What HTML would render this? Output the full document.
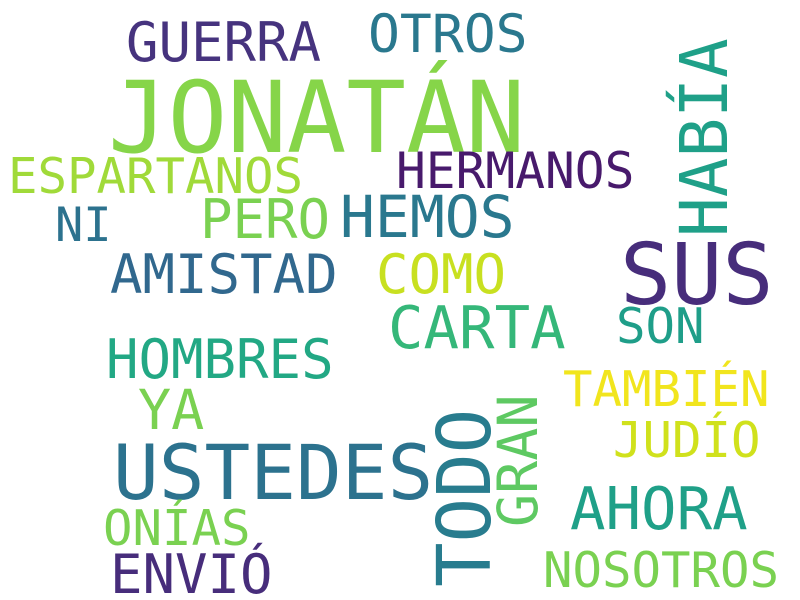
<!DOCTYPE html>
<html>
<head>
<meta charset="utf-8">
<style>
  html,body{margin:0;padding:0;background:#fff;}
  svg{display:block;}
  text{font-family:"DejaVu Sans Mono","Liberation Mono",monospace;}
</style>
</head>
<body>
<svg width="800" height="600" viewBox="0 0 800 600">
  <rect width="800" height="600" fill="#ffffff"/>
  <text x="108" y="152" font-size="99" fill="#86d549">JONATÁN</text>
  <text x="620" y="304" font-size="85" fill="#472d7b">SUS</text>
  <text x="113" y="499" font-size="76" fill="#2c728e">USTEDES</text>
  <text transform="translate(490,587) rotate(-90)" font-size="74" fill="#287c8e">TODO</text>
  <text transform="translate(727,237) rotate(-90)" font-size="66" fill="#1fa088">HABÍA</text>
  <text transform="translate(537,527) rotate(-90)" font-size="55" fill="#5ec962">GRAN</text>
  <text x="126" y="61" font-size="54" fill="#46337e">GUERRA</text>
  <text x="368" y="52" font-size="53" fill="#2a788e">OTROS</text>
  <text x="8" y="193" font-size="49" fill="#a0da39">ESPARTANOS</text>
  <text x="396" y="188" font-size="49.5" fill="#481a6c">HERMANOS</text>
  <text x="55" y="241" font-size="47" fill="#2c728e">NI</text>
  <text x="200" y="238" font-size="54" fill="#7ad151">PERO</text>
  <text x="340" y="237" font-size="58" fill="#2a788e">HEMOS</text>
  <text x="110" y="293" font-size="54" fill="#31688e">AMISTAD</text>
  <text x="376" y="293" font-size="54" fill="#c8e020">COMO</text>
  <text x="388" y="348" font-size="59" fill="#35b779">CARTA</text>
  <text x="616" y="343" font-size="49" fill="#1f9e89">SON</text>
  <text x="106" y="378" font-size="54" fill="#22a884">HOMBRES</text>
  <text x="138" y="429" font-size="55" fill="#7ad151">YA</text>
  <text x="563" y="406" font-size="49" fill="#f1e51d">TAMBIÉN</text>
  <text x="613" y="457" font-size="49" fill="#d0e11c">JUDÍO</text>
  <text x="570" y="529" font-size="59" fill="#1fa088">AHORA</text>
  <text x="103" y="545" font-size="49" fill="#7ad151">ONÍAS</text>
  <text x="110" y="593" font-size="54" fill="#472d7b">ENVIÓ</text>
  <text x="543" y="587" font-size="49" fill="#7ad151">NOSOTROS</text>
</svg>
</body>
</html>
